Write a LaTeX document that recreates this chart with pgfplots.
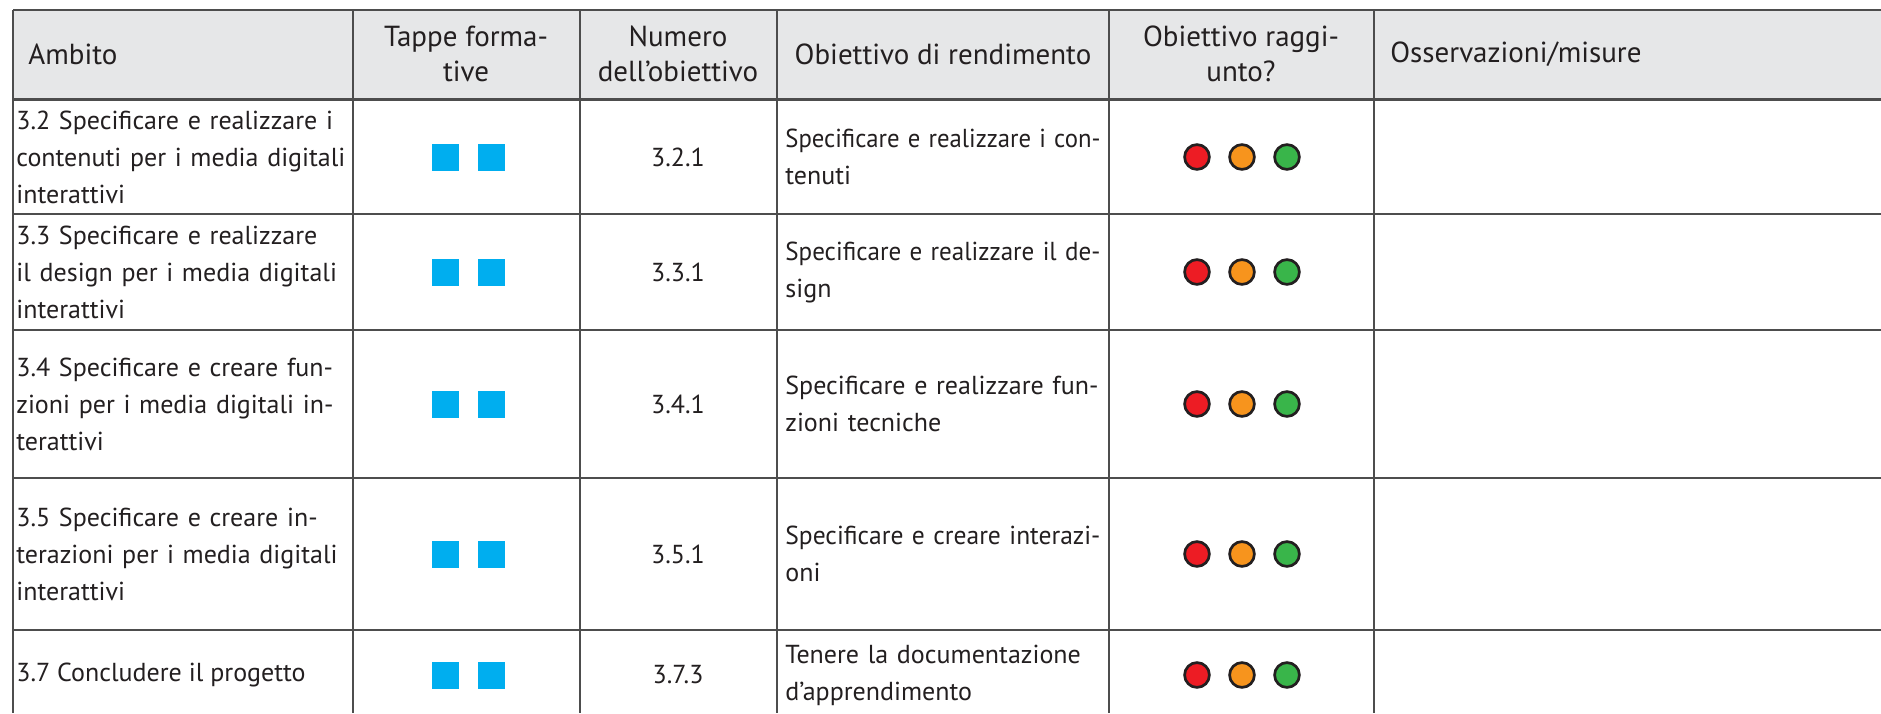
\documentclass[border=0pt]{standalone}
\usepackage{graphicx}
\usepackage{pgfplots}
\pgfplotsset{compat=1.18}
\usepackage{fontspec}
\setmainfont{PT Sans}
\definecolor{hdr}{HTML}{E6E7E8}
\definecolor{gridc}{HTML}{4D4D4D}
\definecolor{txt}{HTML}{231F20}
\definecolor{sq}{HTML}{00AEEF}
\definecolor{cr}{HTML}{ED1C24}
\definecolor{co}{HTML}{F7941D}
\definecolor{cg}{HTML}{39B54A}
\newsavebox\jlbox
\newcommand{\myjline}[2]{\leavevmode\sbox\jlbox{#2}\ifdim\wd\jlbox>#1\relax\resizebox{#1}{\height}{\usebox\jlbox}\else\hbox to #1{#2}\fi}
\tikzset{cell/.style={font=\fontsize{13}{18.5}\selectfont, text=txt, inner sep=0pt},
         head/.style={font=\fontsize{14.5}{17.5}\selectfont, text=txt, inner sep=0pt}}
\begin{document}
\fontsize{13}{18.5}\selectfont
\begin{tikzpicture}
\begin{axis}[
  width=940.5pt, height=356.5pt, scale only axis,
  xmin=0, xmax=1881, ymin=0, ymax=713, y dir=reverse,
  hide axis, clip=false,
]
\coordinate (bl) at (axis cs:0,713);
\coordinate (tr) at (axis cs:1881,0);
% background
\addplot[fill=white, draw=none] coordinates {(0,0) (1881,0) (1881,713) (0,713)} -- cycle;
% header fill
\addplot[fill=hdr, draw=none] coordinates {(13,10) (1881,10) (1881,99) (13,99)} -- cycle;
% horizontal lines
\addplot[gridc, line width=1.3pt] coordinates {(13,10) (1881,10)};
\addplot[gridc, line width=1.2pt] coordinates {(13,99.5) (1881,99.5)};
\addplot[gridc, line width=1pt] coordinates {(13,214) (1881,214)};
\addplot[gridc, line width=1pt] coordinates {(13,330) (1881,330)};
\addplot[gridc, line width=1pt] coordinates {(13,478) (1881,478)};
\addplot[gridc, line width=1pt] coordinates {(13,630) (1881,630)};
% vertical lines
\addplot[gridc, line width=1pt] coordinates {(13,10) (13,713)};
\addplot[gridc, line width=1pt] coordinates {(353,10) (353,713)};
\addplot[gridc, line width=1pt] coordinates {(580,10) (580,713)};
\addplot[gridc, line width=1pt] coordinates {(777,10) (777,713)};
\addplot[gridc, line width=1pt] coordinates {(1109,10) (1109,713)};
\addplot[gridc, line width=1pt] coordinates {(1374,10) (1374,713)};
% squares (Tappe formative)
\addplot[sq, only marks, mark=square*, mark size=6.5pt, mark options={fill=sq, draw=sq, line width=0pt}] table {
x y
445 157
491 157
445 272
491 272
445 404
491 404
445 554
491 554
445 675
491 675
};
% circles
\addplot[only marks, mark=*, mark size=6.2pt, mark options={fill=cr, draw=txt, line width=1.35pt}] table {
x y
1197 157
1197 272
1197 404
1197 554
1197 675
};
\addplot[only marks, mark=*, mark size=6.2pt, mark options={fill=co, draw=txt, line width=1.35pt}] table {
x y
1242 157
1242 272
1242 404
1242 554
1242 675
};
\addplot[only marks, mark=*, mark size=6.2pt, mark options={fill=cg, draw=txt, line width=1.35pt}] table {
x y
1287 157
1287 272
1287 404
1287 554
1287 675
};
% header texts
\node[head, anchor=west] at (axis cs:28,54) {Ambito};
\node[head, align=center] at (axis cs:466,54) {Tappe forma-\\tive};
\node[head, align=center] at (axis cs:678,54) {Numero\\dell’obiettivo};
\node[head, align=center] at (axis cs:943,54) {Obiettivo di rendimento};
\node[head, align=center] at (axis cs:1241,54) {Obiettivo raggi-\\unto?};
\node[head, anchor=west] at (axis cs:1390,54) {Osservazioni/misure};
% column 1
\node[cell, anchor=west, align=left, text width=164.5pt] at (axis cs:16,157) {\myjline{164.5pt}{3.2 Specificare e realizzare i}\\\myjline{164.5pt}{contenuti per i media digitali}\\interattivi};
\node[cell, anchor=west, align=left, text width=164.5pt] at (axis cs:16,272) {\myjline{164.5pt}{3.3 Specificare e realizzare}\\\myjline{164.5pt}{il design per i media digitali}\\interattivi};
\node[cell, anchor=west, align=left, text width=164.5pt] at (axis cs:16,404) {\myjline{164.5pt}{3.4 Specificare e creare fun-}\\\myjline{164.5pt}{zioni per i media digitali in-}\\terattivi};
\node[cell, anchor=west, align=left, text width=164.5pt] at (axis cs:16,554) {\myjline{164.5pt}{3.5 Specificare e creare in-}\\\myjline{164.5pt}{terazioni per i media digitali}\\interattivi};
\node[cell, anchor=west] at (axis cs:16,675) {3.7 Concludere il progetto};
% column 3
\node[cell] at (axis cs:678,157) {3.2.1};
\node[cell] at (axis cs:678,272) {3.3.1};
\node[cell] at (axis cs:678,404) {3.4.1};
\node[cell] at (axis cs:678,554) {3.5.1};
\node[cell] at (axis cs:678,675) {3.7.3};
% column 4
\node[cell, anchor=west, align=left, text width=157.5pt] at (axis cs:785,157) {\myjline{157.5pt}{Specificare e realizzare i con-}\\tenuti};
\node[cell, anchor=west, align=left, text width=157.5pt] at (axis cs:785,272) {\myjline{157.5pt}{Specificare e realizzare il de-}\\sign};
\node[cell, anchor=west, align=left, text width=157.5pt] at (axis cs:785,404) {\myjline{157.5pt}{Specificare e realizzare fun-}\\zioni tecniche};
\node[cell, anchor=west, align=left, text width=157.5pt] at (axis cs:785,554) {\myjline{157.5pt}{Specificare e creare interazi-}\\oni};
\node[cell, anchor=west, align=left, text width=157.5pt] at (axis cs:785,675) {\myjline{157.5pt}{Tenere la documentazione}\\d’apprendimento};
\end{axis}
\pgfresetboundingbox
\path (bl) rectangle (tr);
\end{tikzpicture}
\end{document}
